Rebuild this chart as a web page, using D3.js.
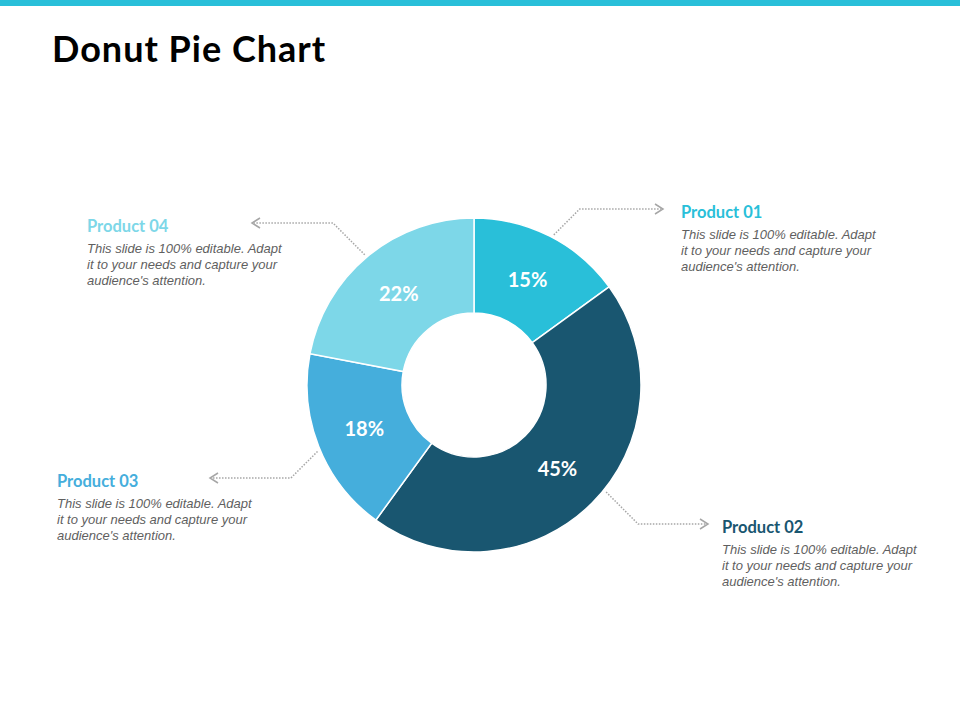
<!DOCTYPE html>
<html>
<head>
<meta charset="utf-8">
<script src="https://cdn.jsdelivr.net/npm/d3@7"></script>
<style>
  body { margin: 0; background: #fff; }
  svg { display: block; }
  .pct { font-family: Lato, "Open Sans", sans-serif; font-weight: bold; font-size: 20px; fill: #fff; }
  .ptitle { font-family: Lato, "Open Sans", sans-serif; font-weight: bold; font-size: 16.5px; }
  .body { font-family: "Liberation Sans", Arial, sans-serif; font-style: italic; font-size: 13px; fill: #5f5f5f; }
</style>
</head>
<body>
<svg id="chart" width="960" height="720"></svg>
<script>
// chart data
var products = ['Product 01', 'Product 02', 'Product 03', 'Product 04'];
var shares = [15, 45, 18, 22];
var colors = ['#29bfd9', '#195670', '#45aedc', '#7dd7e8'];
var blurb = ['This slide is 100% editable. Adapt', 'it to your needs and capture your', "audience's attention."];

// callout placement (text x, title baseline, arrow tip x, connector angle)
var callX = [681, 722, 57, 87];
var callY = [218, 533, 487, 232];
var tipX = [663, 708, 210, 252];
var callAng = [28, 129, 247, 320];

var W = 960, H = 720;
var cx = 474, cy = 385, rOuter = 167, rInner = 72;

var svg = d3.select('#chart');

// top band
svg.append('rect').attr('x', 0).attr('y', 0).attr('width', W).attr('height', 6).attr('fill', '#29bfd9');

svg.append('text')
	.attr('x', 52).attr('y', 62)
	.style('font-family', 'Lato, "Open Sans", sans-serif')
	.style('font-weight', 'bold')
	.style('font-size', '36px')
	.style('letter-spacing', '1px')
	.attr('fill', '#000')
	.text('Donut Pie Chart');

var table = products.map(function(p, i){ return {name: p, value: shares[i], color: colors[i], i: i}; });

var pie = d3.pie().sort(null).value(function(d){ return d.value; });
var arc = d3.arc().innerRadius(rInner).outerRadius(rOuter);
var labelArc = d3.arc().innerRadius(118).outerRadius(118);

var g = svg.append('g').attr('transform', 'translate(' + cx + ',' + cy + ')');
var arcs = pie(table);

g.selectAll('path').data(arcs).enter().append('path')
	.attr('d', arc)
	.attr('fill', function(d){ return d.data.color; })
	.attr('stroke', '#fff')
	.attr('stroke-width', 1.5);

g.selectAll('text.pct').data(arcs).enter().append('text')
	.attr('class', 'pct')
	.attr('transform', function(d){ return 'translate(' + labelArc.centroid(d) + ')'; })
	.attr('text-anchor', 'middle')
	.attr('dy', '0.36em')
	.text(function(d){ return d.data.value + '%'; });

// connectors: dotted elbow from ring edge at 45deg, then flat to the arrow
var conn = svg.append('g');
table.forEach(function(d, i){
	var a = callAng[i] * Math.PI / 180;
	var sx = cx + (rOuter + 3) * Math.sin(a);
	var sy = cy - (rOuter + 3) * Math.cos(a);
	var ly = callY[i] - 9;
	var dir = tipX[i] > sx ? 1 : -1;
	var ex = sx + dir * Math.abs(ly - sy);
	conn.append('polyline')
		.attr('points', [[sx, sy], [ex, ly], [tipX[i] - dir * 2, ly]].join(' '))
		.attr('fill', 'none')
		.attr('stroke', '#a6a6a6')
		.attr('stroke-width', 1.5)
		.attr('stroke-dasharray', '1.5,1.5');
	conn.append('polyline')
		.attr('points', [[tipX[i] - dir * 8, ly - 5], [tipX[i], ly], [tipX[i] - dir * 8, ly + 5]].join(' '))
		.attr('fill', 'none')
		.attr('stroke', '#a6a6a6')
		.attr('stroke-width', 1.5);
});

// callout text
var calls = svg.selectAll('g.call').data(table).enter().append('g').attr('class', 'call');
calls.append('text')
	.attr('class', 'ptitle')
	.attr('x', function(d){ return callX[d.i]; })
	.attr('y', function(d){ return callY[d.i]; })
	.attr('fill', function(d){ return d.color; })
	.text(function(d){ return d.name; });
calls.each(function(d){
	var t = d3.select(this).append('text').attr('class', 'body');
	blurb.forEach(function(line, k){
		t.append('tspan').attr('x', callX[d.i]).attr('y', callY[d.i] + 21 + k * 16).text(line);
	});
});
</script>
</body>
</html>
